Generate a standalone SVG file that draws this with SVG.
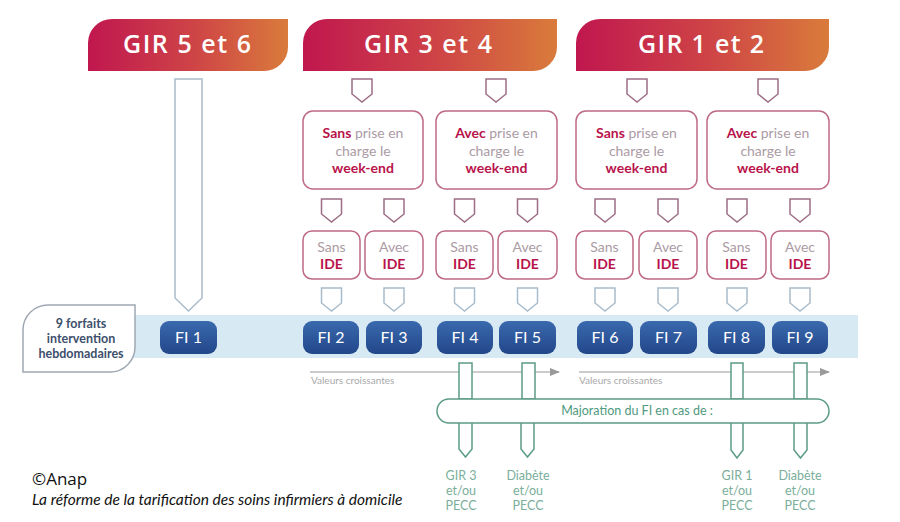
<svg xmlns="http://www.w3.org/2000/svg" width="900" height="522" viewBox="0 0 900 522">
<defs>
<linearGradient id="hg" x1="0" y1="0" x2="1" y2="0">
<stop offset="0" stop-color="#c0174f"/>
<stop offset="0.55" stop-color="#cf4646"/>
<stop offset="1" stop-color="#d97b3b"/>
</linearGradient>
<linearGradient id="fg" x1="0" y1="0" x2="0" y2="1">
<stop offset="0" stop-color="#3a69ae"/>
<stop offset="1" stop-color="#22478a"/>
</linearGradient>
<path id="arr" d="M-10,0 H10 V15 L0,23 L-10,15 Z"/>
<marker id="ah" markerWidth="10" markerHeight="8" refX="9" refY="4" orient="auto" markerUnits="userSpaceOnUse">
<path d="M0,0 L10,4 L0,8 Z" fill="#9a9a9a"/>
</marker>
<style>
.hdr{fill:url(#hg)}
.ht{font-family:"Open Sans","DejaVu Sans",sans-serif;font-weight:600;font-size:25px;fill:#fff;text-anchor:middle}
.box{fill:#fff;stroke:#bd6a84;stroke-width:1.5}
.pa{fill:#fff;stroke:#9c6e85;stroke-width:1.5}
.ga{fill:#fff;stroke:#a9bccb;stroke-width:1.5}
.bt{font-family:Lato,"Open Sans",sans-serif;font-size:14px;fill:#ab9ba5;text-anchor:middle}
.b{font-weight:700;fill:#b8134a}
.fi{fill:url(#fg)}
.ft{font-family:Lato,"Open Sans",sans-serif;font-size:16px;fill:#fff;text-anchor:middle}
.gr{fill:#fff;stroke:#5b9c85;stroke-width:1.5}
.gl{fill:none;stroke:#5b9c85;stroke-width:1.5}
.gt{font-family:Lato,"Open Sans",sans-serif;font-size:12.5px;fill:#7aae9b;text-anchor:middle}
.vt{font-family:Lato,"Open Sans",sans-serif;font-size:10px;fill:#a8a8a8}
.vl{stroke:#9a9a9a;stroke-width:1.2;fill:none}
</style>
</defs>
<rect width="900" height="522" fill="#fff"/>

<!-- band -->
<rect x="100" y="315" width="758" height="43" fill="#d7e9f2"/>

<g id="h1"><path class="hdr" d="M88,71 V43 A24,24 0 0 1 112,19 H288 V47 A24,24 0 0 1 264,71 Z"/><text class="ht" x="187" y="53" textLength="128">GIR 5 et 6</text></g>
<g id="h2"><path class="hdr" d="M303,71 V43 A24,24 0 0 1 327,19 H557 V47 A24,24 0 0 1 533,71 Z"/><text class="ht" x="428" y="53" textLength="128">GIR 3 et 4</text></g>
<g id="h3"><path class="hdr" d="M576,71 V43 A24,24 0 0 1 600,19 H829 V47 A24,24 0 0 1 805,71 Z"/><text class="ht" x="701" y="53" textLength="126">GIR 1 et 2</text></g>

<g id="w1"><rect class="box" x="303" y="111" width="120" height="78" rx="10"/>
<text class="bt" x="363" y="138"><tspan class="b">Sans</tspan> prise en</text><text class="bt" x="363" y="156">charge le</text><text class="bt b" x="363" y="173">week-end</text></g>
<g id="w2"><rect class="box" x="436" y="111" width="121" height="78" rx="10"/>
<text class="bt" x="496.5" y="138"><tspan class="b">Avec</tspan> prise en</text><text class="bt" x="496.5" y="156">charge le</text><text class="bt b" x="496.5" y="173">week-end</text></g>
<g id="w3"><rect class="box" x="576" y="111" width="121" height="78" rx="10"/>
<text class="bt" x="636.5" y="138"><tspan class="b">Sans</tspan> prise en</text><text class="bt" x="636.5" y="156">charge le</text><text class="bt b" x="636.5" y="173">week-end</text></g>
<g id="w4"><rect class="box" x="707" y="111" width="122" height="78" rx="10"/>
<text class="bt" x="768" y="138"><tspan class="b">Avec</tspan> prise en</text><text class="bt" x="768" y="156">charge le</text><text class="bt b" x="768" y="173">week-end</text></g>

<g id="i1"><rect class="box" x="303" y="231" width="57" height="48" rx="9"/><text class="bt" x="331.5" y="252">Sans</text><text class="bt b" x="331.5" y="269">IDE</text></g>
<g id="i2"><rect class="box" x="365" y="231" width="58" height="48" rx="9"/><text class="bt" x="394" y="252">Avec</text><text class="bt b" x="394" y="269">IDE</text></g>
<g id="i3"><rect class="box" x="436" y="231" width="57" height="48" rx="9"/><text class="bt" x="464.5" y="252">Sans</text><text class="bt b" x="464.5" y="269">IDE</text></g>
<g id="i4"><rect class="box" x="498" y="231" width="59" height="48" rx="9"/><text class="bt" x="527.5" y="252">Avec</text><text class="bt b" x="527.5" y="269">IDE</text></g>
<g id="i5"><rect class="box" x="576" y="231" width="57" height="48" rx="9"/><text class="bt" x="604.5" y="252">Sans</text><text class="bt b" x="604.5" y="269">IDE</text></g>
<g id="i6"><rect class="box" x="639" y="231" width="58" height="48" rx="9"/><text class="bt" x="668" y="252">Avec</text><text class="bt b" x="668" y="269">IDE</text></g>
<g id="i7"><rect class="box" x="707" y="231" width="59" height="48" rx="9"/><text class="bt" x="736.5" y="252">Sans</text><text class="bt b" x="736.5" y="269">IDE</text></g>
<g id="i8"><rect class="box" x="771" y="231" width="58" height="48" rx="9"/><text class="bt" x="800" y="252">Avec</text><text class="bt b" x="800" y="269">IDE</text></g>

<g id="label"><path d="M23,372 V330 A25,25 0 0 1 48,305 H135 V347 A25,25 0 0 1 110,372 Z" fill="#fff" stroke="#a0a8b3" stroke-width="1.5"/>
<text font-family="Lato,'Open Sans',sans-serif" font-weight="700" font-size="12.5" fill="#3d4f6c" text-anchor="middle"><tspan x="81" y="328">9 forfaits</tspan><tspan x="81" y="343">intervention</tspan><tspan x="81" y="358">hebdomadaires</tspan></text></g>

<g id="fi1"><rect class="fi" x="160" y="321" width="57" height="33" rx="9"/><text class="ft" x="188.5" y="343">FI 1</text></g>
<g id="fi2"><rect class="fi" x="303" y="321" width="56" height="33" rx="9"/><text class="ft" x="331" y="343">FI 2</text></g>
<g id="fi3"><rect class="fi" x="366" y="321" width="56" height="33" rx="9"/><text class="ft" x="394" y="343">FI 3</text></g>
<g id="fi4"><rect class="fi" x="437" y="321" width="56" height="33" rx="9"/><text class="ft" x="465" y="343">FI 4</text></g>
<g id="fi5"><rect class="fi" x="499" y="321" width="57" height="33" rx="9"/><text class="ft" x="527.5" y="343">FI 5</text></g>
<g id="fi6"><rect class="fi" x="577" y="321" width="56" height="33" rx="9"/><text class="ft" x="605" y="343">FI 6</text></g>
<g id="fi7"><rect class="fi" x="640" y="321" width="57" height="33" rx="9"/><text class="ft" x="668.5" y="343">FI 7</text></g>
<g id="fi8"><rect class="fi" x="708" y="321" width="57" height="33" rx="9"/><text class="ft" x="736.5" y="343">FI 8</text></g>
<g id="fi9"><rect class="fi" x="772" y="321" width="56" height="33" rx="9"/><text class="ft" x="800" y="343">FI 9</text></g>

<g id="connectors">
<path class="ga" d="M175,79 H202 V298 L188.5,311 L175,298 Z"/>
<use href="#arr" class="pa" x="362" y="79"/>
<use href="#arr" class="pa" x="496" y="79"/>
<use href="#arr" class="pa" x="637" y="79"/>
<use href="#arr" class="pa" x="768" y="79"/>
<use href="#arr" class="pa" x="331.5" y="199"/>
<use href="#arr" class="pa" x="394" y="199"/>
<use href="#arr" class="pa" x="464.5" y="199"/>
<use href="#arr" class="pa" x="527.5" y="199"/>
<use href="#arr" class="pa" x="605" y="199"/>
<use href="#arr" class="pa" x="668" y="199"/>
<use href="#arr" class="pa" x="737" y="199"/>
<use href="#arr" class="pa" x="800" y="199"/>
<use href="#arr" class="ga" x="331.5" y="288"/>
<use href="#arr" class="ga" x="394" y="288"/>
<use href="#arr" class="ga" x="464.5" y="288"/>
<use href="#arr" class="ga" x="527.5" y="288"/>
<use href="#arr" class="ga" x="605" y="288"/>
<use href="#arr" class="ga" x="668" y="288"/>
<use href="#arr" class="ga" x="737" y="288"/>
<use href="#arr" class="ga" x="800" y="288"/>
<line class="vl" x1="310" y1="372" x2="559" y2="372" marker-end="url(#ah)"/>
<line class="vl" x1="579" y1="372" x2="829" y2="372" marker-end="url(#ah)"/>
<rect class="gr" x="459" y="363" width="13" height="36"/>
<rect class="gr" x="522" y="363" width="13" height="36"/>
<rect class="gr" x="731" y="363" width="12" height="36"/>
<rect class="gr" x="794" y="363" width="13" height="36"/>
<path class="gl" d="M459,423 V449 L465.5,457 L472,449 V423"/>
<path class="gl" d="M521,423 V449 L527.5,457 L534,449 V423"/>
<path class="gl" d="M731,423 V450 L737,458 L743,450 V423"/>
<path class="gl" d="M794,423 V450 L800.5,458 L807,450 V423"/>
</g>
<text class="vt" x="311" y="384">Valeurs croissantes</text>
<text class="vt" x="579" y="384">Valeurs croissantes</text>

<g id="maj"><rect class="gr" x="437" y="399" width="392" height="24" rx="12"/>
<text font-family="Lato,'Open Sans',sans-serif" font-size="12.5" fill="#4f9a80" text-anchor="middle" x="637" y="415">Majoration du FI en cas de :</text></g>

<g id="c1"><text class="gt"><tspan x="461" y="480">GIR 3</tspan><tspan x="461" y="495">et/ou</tspan><tspan x="461" y="510">PECC</tspan></text></g>
<g id="c2"><text class="gt"><tspan x="528" y="480">Diabète</tspan><tspan x="528" y="495">et/ou</tspan><tspan x="528" y="510">PECC</tspan></text></g>
<g id="c3"><text class="gt"><tspan x="737" y="480">GIR 1</tspan><tspan x="737" y="495">et/ou</tspan><tspan x="737" y="510">PECC</tspan></text></g>
<g id="c4"><text class="gt"><tspan x="800" y="480">Diabète</tspan><tspan x="800" y="495">et/ou</tspan><tspan x="800" y="510">PECC</tspan></text></g>

<text x="32" y="485" font-family="'Open Sans',sans-serif" font-size="17" fill="#111">©Anap</text>
<text x="32" y="505" font-family="Lato,'Open Sans',sans-serif" font-style="italic" font-size="15.5" fill="#111">La réforme de la tarification des soins infirmiers à domicile</text>
</svg>
